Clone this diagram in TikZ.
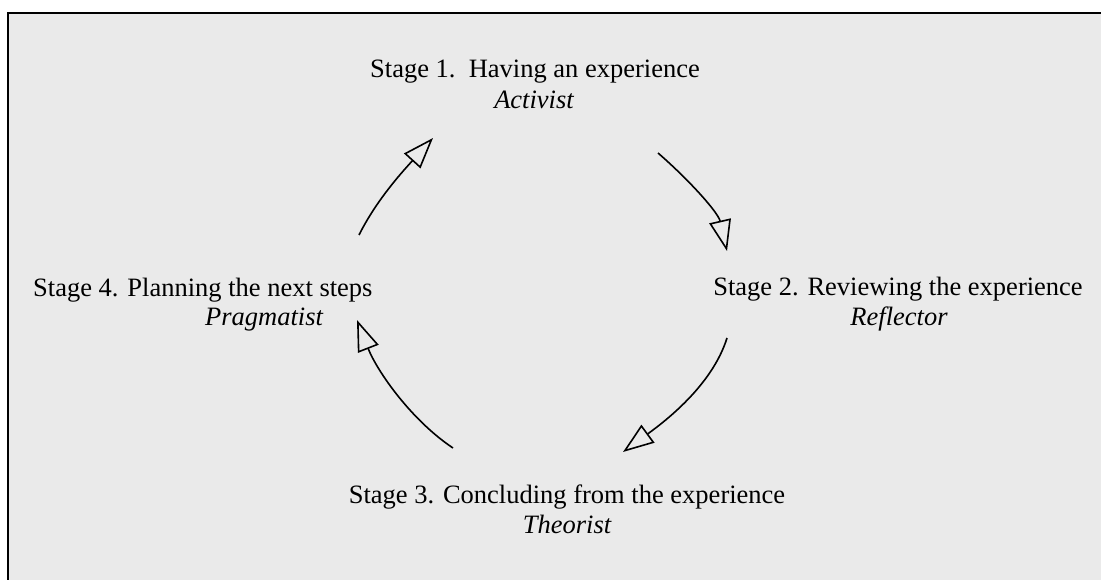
\documentclass[tikz,border=0pt]{standalone}
\usepackage{fontspec}
\setmainfont{Liberation Serif}
\usetikzlibrary{arrows.meta}
\definecolor{bgc}{RGB}{234,234,234}
\tikzset{
  lbl/.style={inner sep=0pt, anchor=base, font=\fontsize{26.5}{30.5}\selectfont},
  lbli/.style={lbl, font=\fontsize{26.5}{30.5}\selectfont\itshape},
  cyc/.style={line width=1.6pt, -{Triangle[open, length=31pt, width=22pt, line width=1.6pt]}},
  frame/.style={line width=2.2pt, line cap=rect}
}
\begin{document}
\begin{tikzpicture}[x=1pt, y=-1pt]
\useasboundingbox (0,0) rectangle (1101,580);
\fill[white] (0,0) rectangle (1101,580);
\fill[bgc] (8,13) rectangle (1101,580);
\coordinate (fbl) at (8,580);
\coordinate (ftl) at (8,13);
\coordinate (ftr) at (1101,13);
\draw[frame] (fbl) -- (ftl) -- (ftr);

\node[lbl]  (s1)  at (535,78)  {Stage 1.\ \ Having an experience};
\node[lbli] (s1r) at (534,109) {Activist};
\node[lbl]  (s2)  at (898,295) {Stage 2. Reviewing the experience};
\node[lbli] (s2r) at (899,325) {Reflector};
\node[lbl]  (s3)  at (567,503) {Stage 3. Concluding from the experience};
\node[lbli] (s3r) at (567,533) {Theorist};
\node[lbl, anchor=base west]  (s4)  at (33,297)  {Stage 4. Planning the next steps};
\node[lbli, anchor=base west] (s4r) at (205,326) {Pragmatist};

\coordinate (a1s) at (359,235);
\coordinate (a1e) at (433,138);
\coordinate (a2s) at (658,153);
\coordinate (a2e) at (727,251);
\coordinate (a3s) at (727,338);
\coordinate (a3e) at (623,452);
\coordinate (a4s) at (453,448);
\coordinate (a4e) at (357,320);

\draw[cyc] (a1s) .. controls (377,199) and (404,170) .. (a1e);
\draw[cyc] (a2s) .. controls (688,179) and (718,212) .. (a2e);
\draw[cyc] (a3s) .. controls (712,386) and (664,422) .. (a3e);
\draw[cyc] (a4s) .. controls (411,420) and (377,371) .. (a4e);
\end{tikzpicture}
\end{document}
